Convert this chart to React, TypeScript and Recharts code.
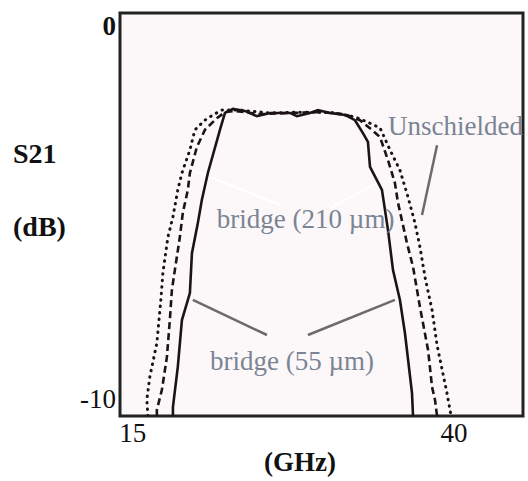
import { LineChart, Line, XAxis, YAxis, ReferenceArea, ReferenceLine, ReferenceDot } from "recharts";

const xTicks = [15, 40];
const yTicks = [0, -10];
const xDomain = [14, 45.37];
const yDomain = [-10, 0];

// bridge (55 µm) – solid
const bridge55Freq = [18.12, 18.12, 18.5, 18.82, 19.44, 19.6, 20.06, 20.37, 20.84, 21.78, 22.17, 22.79, 23.72, 24.66, 25.67, 27.23, 27.77, 28.79, 29.41, 30.34, 31.51, 32.29, 32.91, 33.3, 33.46, 34.39, 34.86, 35.25, 35.79, 36.18, 36.73, 36.81];
const bridge55Db = [-10, -9.78, -8.78, -7.62, -6.95, -5.96, -5.21, -4.64, -3.97, -2.9, -2.48, -2.38, -2.43, -2.56, -2.48, -2.48, -2.56, -2.48, -2.41, -2.48, -2.53, -2.66, -2.98, -3.2, -3.82, -4.39, -5.38, -6.38, -7.12, -7.94, -9.43, -10];

// bridge (210 µm) – dashed
const bridge210Freq = [16.87, 16.87, 17.26, 17.65, 17.88, 18.04, 18.27, 18.66, 18.89, 19.28, 19.44, 19.98, 20.61, 21.54, 22.17, 22.94, 24.89, 27.23, 29.56, 31.51, 32.68, 33.61, 34.24, 34.86, 35.4, 35.64, 36.34, 36.81, 37.35, 37.98, 38.29, 38.52, 38.68];
const bridge210Db = [-10, -9.85, -9.35, -8.54, -7.62, -6.87, -6.38, -5.56, -4.96, -4.39, -3.97, -3.33, -2.9, -2.61, -2.46, -2.43, -2.51, -2.48, -2.46, -2.51, -2.66, -2.9, -3.08, -3.65, -4.22, -4.71, -5.71, -6.3, -7.3, -8.36, -9.28, -9.6, -10];

// unshielded – dotted
const unshieldedFreq = [16.17, 16.09, 16.32, 16.87, 17.18, 17.34, 17.73, 18.12, 18.5, 18.82, 19.44, 19.83, 20.61, 21.23, 21.93, 23.33, 25.67, 28.0, 30.34, 32.29, 33.22, 34.24, 35.02, 35.79, 36.42, 36.96, 37.35, 37.74, 38.29, 38.68, 39.45, 39.69, 39.77];
const unshieldedDb = [-10, -9.6, -9.03, -8.19, -7.12, -6.45, -5.56, -5.06, -4.39, -3.97, -3.4, -2.9, -2.66, -2.53, -2.41, -2.41, -2.48, -2.46, -2.46, -2.58, -2.7, -2.85, -3.4, -3.9, -4.57, -5.21, -5.81, -6.55, -7.37, -8.24, -9.43, -9.85, -10];

const zip = (f: number[], d: number[]) => f.map((v, i) => ({ f: v, db: d[i] }));

const bridge55 = zip(bridge55Freq, bridge55Db);
const bridge210 = zip(bridge210Freq, bridge210Db);
const unshielded = zip(unshieldedFreq, unshieldedDb);

const FONT = "'Liberation Serif', 'Times New Roman', serif";
const NOTE = "#7b8494";
const POINTER = "#6b6b6b";

const XTick = ({ x, y, payload }: any) => (
  <text x={x} y={y + 26} textAnchor="middle" fontSize={27} fontFamily={FONT} fill="#111">
    {payload.value}
  </text>
);

const YTick = ({ x, y, payload }: any) => {
  const top = payload.value === 0;
  return (
    <text
      x={x - 4}
      y={top ? y + 22 : y - 8}
      textAnchor="end"
      fontSize={27}
      fontWeight={top ? "bold" : "normal"}
      fontFamily={FONT}
      fill="#111"
    >
      {payload.value}
    </text>
  );
};

const note = (text: string) => (p: any) => (
  <text x={p.cx} y={p.cy} textAnchor="start" fontSize={27} fontFamily={FONT} fill={NOTE}>
    {text}
  </text>
);

export default function App() {
  return (
    <div style={{ position: "absolute", left: 0, top: 0, width: 528, height: 481, background: "#fff" }}>
      <LineChart width={528} height={481} margin={{ top: 13, right: 5, bottom: 35, left: 0 }}>
        <XAxis
          type="number"
          dataKey="f"
          domain={xDomain}
          ticks={xTicks}
          allowDataOverflow
          axisLine={false}
          tickLine={false}
          tickSize={0}
          tickMargin={0}
          height={30}
          tick={XTick}
          label={{
            content: () => (
              <text x={300} y={471} textAnchor="middle" fontSize={27} fontWeight="bold" fontFamily={FONT} fill="#111">
                (GHz)
              </text>
            ),
          }}
        />
        <YAxis
          type="number"
          dataKey="db"
          domain={yDomain}
          ticks={yTicks}
          allowDataOverflow
          axisLine={false}
          tickLine={false}
          tickSize={0}
          tickMargin={0}
          width={120}
          tick={YTick}
          label={{
            content: () => (
              <g fontFamily={FONT} fill="#111">
                <text x={13} y={163} fontSize={28} fontWeight="bold">S21</text>
                <text x={13} y={236} fontSize={28} fontWeight="bold">(dB)</text>
              </g>
            ),
          }}
        />
        <ReferenceArea
          x1={xDomain[0]}
          x2={xDomain[1]}
          y1={yDomain[0]}
          y2={yDomain[1]}
          fill="#fcf8f9"
          fillOpacity={1}
          stroke="#222"
          strokeWidth={3}
          ifOverflow="visible"
        />

        {/* faint white pointers for the 210 µm label */}
        <ReferenceLine segment={[{ x: 19.67, y: -3.9 }, { x: 26.45, y: -4.76 }]} stroke="#ffffff" strokeWidth={2} />
        <ReferenceLine segment={[{ x: 30.34, y: -4.84 }, { x: 34.0, y: -4.22 }]} stroke="#ffffff" strokeWidth={2} />

        <Line data={unshielded} dataKey="db" type="linear" stroke="#1c1414" strokeWidth={3} strokeDasharray="0.5 6" strokeLinecap="round" dot={false} isAnimationActive={false} />
        <Line data={bridge210} dataKey="db" type="linear" stroke="#1c1414" strokeWidth={2.6} strokeDasharray="7 4" dot={false} isAnimationActive={false} />
        <Line data={bridge55} dataKey="db" type="linear" stroke="#1c1414" strokeWidth={2.6} dot={false} isAnimationActive={false} />

        {/* pointers */}
        <ReferenceLine segment={[{ x: 19.67, y: -7.12 }, { x: 25.44, y: -7.99 }]} stroke={POINTER} strokeWidth={2.5} />
        <ReferenceLine segment={[{ x: 28.63, y: -7.99 }, { x: 35.4, y: -7.12 }]} stroke={POINTER} strokeWidth={2.5} />
        <ReferenceLine segment={[{ x: 38.68, y: -3.28 }, { x: 37.51, y: -5.01 }]} stroke={POINTER} strokeWidth={2.5} />

        <ReferenceDot x={21.0} y={-8.86} r={0} shape={note("bridge (55 µm)")} />
        <ReferenceDot x={21.54} y={-5.33} r={0} shape={note("bridge (210 µm)")} />
        <ReferenceDot x={34.86} y={-3.03} r={0} shape={note("Unschielded")} />
      </LineChart>
    </div>
  );
}
